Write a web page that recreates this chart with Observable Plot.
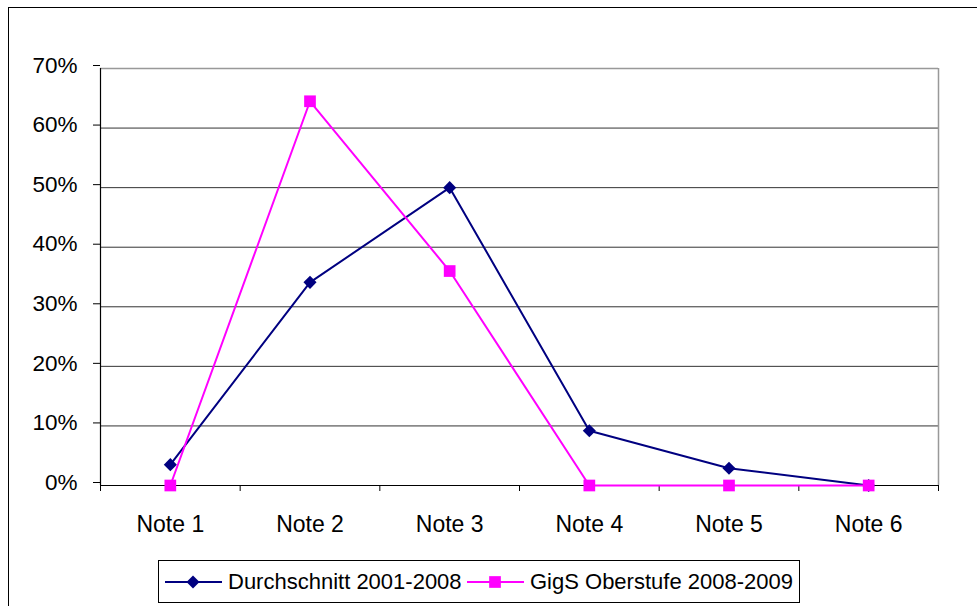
<!DOCTYPE html>
<html>
<head>
<meta charset="utf-8">
<script src="https://cdn.jsdelivr.net/npm/d3@7"></script>
<script src="https://cdn.jsdelivr.net/npm/@observablehq/plot@0.6"></script>
<style>
  html, body { margin: 0; padding: 0; background: #fff; }
  #wrap { position: relative; width: 977px; height: 606px; overflow: hidden; font-family: "Liberation Sans", Arial, sans-serif; }
  #frame { position: absolute; left: 8px; top: 7px; width: 1100px; height: 700px; border: 1.5px solid #000; box-sizing: border-box; }
  #chart { position: absolute; left: 0; top: 0; }
  #legend { position: absolute; left: 158px; top: 560px; width: 642px; height: 43px; border: 1px solid #000; box-sizing: border-box; background: #fff; }
  .item { position: absolute; top: 0; height: 41px; display: flex; align-items: center; font-size: 22px; color: #000; white-space: nowrap; }
  .item svg { display: block; margin-right: 5px; }
</style>
</head>
<body>
<div id="wrap">
  <div id="frame"></div>
  <div id="chart"></div>
  <div id="legend"></div>
</div>
<script>
const categories = ["Note 1", "Note 2", "Note 3", "Note 4", "Note 5", "Note 6"];
const seriesNames = ["Durchschnitt 2001-2008", "GigS Oberstufe 2008-2009"];
const durchschnitt = [0.035, 0.341, 0.50, 0.092, 0.029, 0.0];
const oberstufe = [0.0, 0.645, 0.36, 0.0, 0.0, 0.0];
const yTicks = [0, 0.1, 0.2, 0.3, 0.4, 0.5, 0.6, 0.7];
const colors = ["#000080", "#FF00FF"];

const rowsA = categories.map((c, i) => ({i, note: c, value: durchschnitt[i]}));
const rowsB = categories.map((c, i) => ({i, note: c, value: oberstufe[i]}));
const idx = categories.map((c, i) => i);
const bounds = d3.range(categories.length + 1).map(k => k - 0.5);

const plot = Plot.plot({
  width: 977,
  height: 545,
  marginLeft: 100,
  marginRight: 39,
  marginTop: 68,
  marginBottom: 60,
  style: {fontFamily: "'Liberation Sans', Arial, sans-serif", fontSize: "22.5px", color: "#000", background: "transparent"},
  x: {type: "linear", domain: [-0.5, categories.length - 0.5]},
  y: {domain: [0, 0.7]},
  marks: [
    Plot.ruleY(yTicks.filter(t => t > 0 && t < 0.7), {stroke: "#333", strokeWidth: 1}),
    Plot.ruleY([0.7], {stroke: "#999", strokeWidth: 1.5}),
    Plot.ruleX([categories.length - 0.5], {stroke: "#999", strokeWidth: 1.5}),
    Plot.ruleX([-0.5], {stroke: "#000", strokeWidth: 1.2}),
    Plot.ruleY([0], {stroke: "#000", strokeWidth: 1.2}),
    Plot.axisY({ticks: yTicks, tickFormat: d3.format(".0%"), tickSize: 7, tickPadding: 16, dy: -3, stroke: "#000", fontSize: 22.5, label: null}),
    Plot.axisX({ticks: bounds, tickFormat: () => "", tickSize: 6, stroke: "#000", label: null}),
    Plot.axisX({ticks: idx, tickFormat: i => categories[i], tickSize: 0, tickPadding: 30, fontSize: 23, label: null}),
    Plot.line(rowsA, {x: "i", y: "value", stroke: colors[0], strokeWidth: 2}),
    Plot.dot(rowsA, {x: "i", y: "value", symbol: "diamond2", r: 5.9, fill: colors[0], stroke: "none"}),
    Plot.line(rowsB, {x: "i", y: "value", stroke: colors[1], strokeWidth: 2}),
    Plot.dot(rowsB, {x: "i", y: "value", symbol: "square", r: 6.6, fill: colors[1], stroke: "none"})
  ]
});
document.getElementById("chart").appendChild(plot);

// legend
const legend = document.getElementById("legend");
const lefts = [6, 308];
const symbols = [d3.symbolDiamond2, d3.symbolSquare];
const sizes = [108, 137];
seriesNames.forEach((name, k) => {
  const item = document.createElement("div");
  item.className = "item";
  item.style.left = lefts[k] + "px";
  const svg = d3.create("svg").attr("width", 58).attr("height", 20);
  svg.append("line").attr("x1", 0).attr("x2", 57).attr("y1", 10).attr("y2", 10)
    .attr("stroke", colors[k]).attr("stroke-width", 2);
  svg.append("path").attr("d", d3.symbol(symbols[k], sizes[k])())
    .attr("transform", "translate(28,10)").attr("fill", colors[k]);
  item.appendChild(svg.node());
  const span = document.createElement("span");
  span.textContent = name;
  item.appendChild(span);
  legend.appendChild(item);
});
</script>
</body>
</html>
